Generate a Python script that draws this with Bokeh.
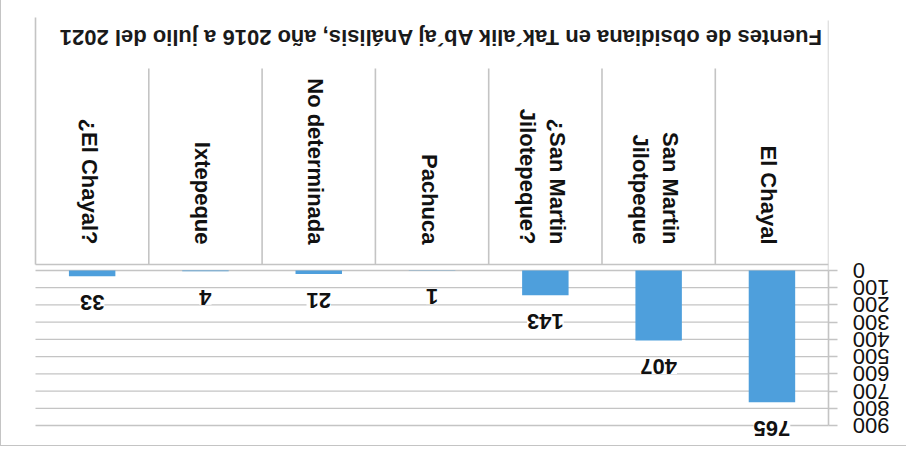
import math
from bokeh.plotting import figure
from bokeh.models import Range1d, FixedTicker, LinearAxis
from bokeh.core.properties import value
from bokeh.embed import file_html
from bokeh.resources import INLINE

# ---- data ----
categories = ["¿El Chayal?", "Ixtepeque", "No determinada", "Pachuca",
              "¿San Martin\nJilotepeque?", "San Martin\nJilotpeque", "El Chayal"]
counts = [33, 4, 21, 1, 143, 407, 765]
y_ticks = [0, 100, 200, 300, 400, 500, 600, 700, 800, 900]
y_tick_labels = ["0", "100", "200", "300", "400", "500", "600", "700", "800", "900"]
title_text = "Fuentes de obsidiana en Tak´alik Ab´aj Análisis, año 2016 a julio del 2021"

# ---- layout (page pixels -> data units) ----
FRAME_L, FRAME_T, FRAME_W, FRAME_H = 8, 8, 820, 438
ZERO_PX, MAX_PX = 270, 425          # pixel rows of 0 and 900
CAT_L_PX, CAT_W_PX = 35, 113.3      # left edge and width of a category column
U = (y_ticks[-1] - y_ticks[0]) / (MAX_PX - ZERO_PX)

def ypx(px):
    return (px - ZERO_PX) * U

x_start = (FRAME_L - CAT_L_PX) / CAT_W_PX
x_end = (FRAME_L + FRAME_W - CAT_L_PX) / CAT_W_PX
n = len(categories)
xs = [i + 0.5 for i in range(n)]

p = figure(frame_width=FRAME_W, frame_height=FRAME_H,
           x_range=Range1d(x_start, x_end),
           y_range=Range1d(ypx(FRAME_T + FRAME_H), ypx(FRAME_T)),
           output_backend="svg", toolbar_location=None,
           min_border_left=FRAME_L, min_border_top=FRAME_T,
           min_border_bottom=0, min_border_right=0)
p.styles = {"box-shadow": "inset 5px 3px 0 -4px #c4c4c4, inset 0 -1px 0 #c4c4c4"}
p.xaxis.visible = False
p.yaxis.visible = False
p.grid.visible = False
p.outline_line_color = None
p.background_fill_color = None
p.border_fill_color = None

GRID = "#c4c4c4"

# horizontal value gridlines
p.segment(x0=[0] * len(y_ticks), x1=[n + 0.08] * len(y_ticks), y0=y_ticks, y1=y_ticks,
          line_color=GRID, line_width=1.3)

# table lines (category grid + title box)
inner = list(range(1, n))
p.segment(x0=inner, x1=inner, y0=[ypx(68)] * len(inner), y1=[ypx(264)] * len(inner),
          line_color=GRID, line_width=1.6)
p.segment(x0=[0, n], x1=[0, n], y0=[ypx(17), ypx(20)], y1=[ypx(264), 0],
          line_color=GRID, line_width=1.6)
p.segment(x0=[0], x1=[n], y0=[ypx(264)], y1=[ypx(264)], line_color=GRID, line_width=1.6)

# bars
p.vbar(x=xs, width=0.41, top=counts, bottom=0, fill_color="#4e9fdc", line_color=None)

# value labels (upside down)
p.text(x=xs, y=counts, text=[str(c) for c in counts], angle=math.pi, y_offset=26,
       text_align="center", text_baseline="middle",
       text_font=value("Liberation Sans"), text_font_size="22px", text_font_style="bold",
       text_color="#111111", background_fill_color="white")

# category labels (rotated)
lx, ly, lt, lo = [], [], [], []
for i, c in enumerate(categories):
    parts = c.split("\n")
    if len(parts) == 1:
        offs = [-3]
    else:
        offs = [12, -18]
    for part, o in zip(parts, offs):
        lx.append(xs[i]); ly.append(ypx(244)); lt.append(part); lo.append(o)
p.text(x=lx, y=ly, text=lt, x_offset=lo, angle=-math.pi / 2,
       text_align="right", text_baseline="middle",
       text_font=value("Liberation Sans"), text_font_size="22px", text_font_style="bold",
       text_color="#111111")

# title (upside down)
p.text(x=[n / 2], y=[ypx(37)], text=[title_text], x_offset=8, angle=math.pi,
       text_align="center", text_baseline="middle",
       text_font=value("Liberation Sans"), text_font_size="22px", text_font_style="bold",
       text_color="#1a1a1a")

# right value axis (labels upside down, visually left-aligned)
width = max(len(s) for s in y_tick_labels)
padded = {t: "\u00a0\u00a0" * (width - len(s)) + s for t, s in zip(y_ticks, y_tick_labels)}
ax = LinearAxis(ticker=FixedTicker(ticks=y_ticks), bounds=(y_ticks[0], y_ticks[-1]))
ax.major_label_overrides = padded
ax.major_label_orientation = math.pi
ax.major_label_text_font = "Liberation Sans"
ax.major_label_text_font_size = "22px"
ax.major_label_text_color = "#111111"
ax.major_label_standoff = 52
ax.axis_line_color = GRID
ax.axis_line_width = 1.6
ax.major_tick_line_color = GRID
ax.major_tick_line_width = 1.3
ax.major_tick_in = 0
ax.major_tick_out = 9
ax.minor_tick_line_color = None
p.add_layout(ax, "right")

open("out.html", "w").write(file_html(p, INLINE))
